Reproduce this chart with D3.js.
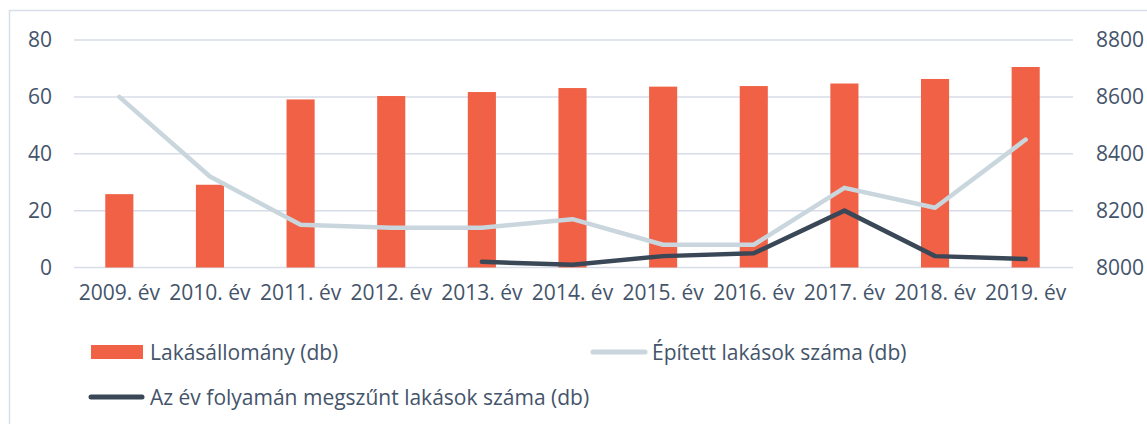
<!DOCTYPE html>
<html>
<head>
<meta charset="utf-8">
<script src="https://cdn.jsdelivr.net/npm/d3@7"></script>
<style>
  html, body { margin: 0; padding: 0; background: #fff; }
  svg { display: block; font-family: "Open Sans", sans-serif; }
</style>
</head>
<body>
<svg id="chart" width="1147" height="424"></svg>
<script>
const categories = ["2009. év","2010. év","2011. év","2012. év","2013. év","2014. év","2015. év","2016. év","2017. év","2018. év","2019. év"];
const lakasallomany = [8258, 8291, 8591, 8603, 8617, 8631, 8636, 8638, 8647, 8663, 8705];
const epitett = [60, 32, 15, 14, 14, 17, 8, 8, 28, 21, 45];
const megszunt = [null, null, null, null, 2, 1, 4, 5, 20, 4, 3];
const leftTicks = [0, 20, 40, 60, 80];
const rightTicks = [8000, 8200, 8400, 8600, 8800];
const seriesNames = ["Lakásállomány (db)", "Épített lakások száma (db)", "Az év folyamán megszűnt lakások száma (db)"];

const colors = { bar: "#F06145", light: "#C9D6DD", dark: "#3A4757", text: "#44546A", grid: "#D6DDE8", border: "#D9DFE8" };

const svg = d3.select("#chart");

// chart border
svg.append("path")
  .attr("d", "M9.5,424 L9.5,10.5 L1147,10.5")
  .attr("fill", "none").attr("stroke", colors.border).attr("stroke-width", 1.5);

const x = d3.scaleBand().domain(categories).range([74, 1071]).paddingInner(0.69).paddingOuter(0.345);
const xc = d => x(d) + x.bandwidth() / 2;
const yL = d3.scaleLinear().domain([0, 80]).range([267.5, 40]);
const yR = d3.scaleLinear().domain([8000, 8800]).range([267.5, 40]);

// gridlines
svg.append("g").selectAll("line").data(leftTicks).join("line")
  .attr("x1", 74).attr("x2", 1073)
  .attr("y1", d => yL(d)).attr("y2", d => yL(d))
  .attr("stroke", colors.grid).attr("stroke-width", 1.5);

// left axis
const axL = svg.append("g").attr("transform", "translate(52,0)")
  .call(d3.axisLeft(yL).tickValues(leftTicks).tickSize(0).tickPadding(0).tickFormat(d3.format("d")));
axL.select(".domain").remove();
axL.selectAll("text").attr("fill", colors.text).style("font-size", "21px").style("font-family", "Open Sans");

// right axis
const axR = svg.append("g").attr("transform", "translate(1096,0)")
  .call(d3.axisRight(yR).tickValues(rightTicks).tickSize(0).tickPadding(0).tickFormat(d3.format("d")));
axR.select(".domain").remove();
axR.selectAll("text").attr("fill", colors.text).style("font-size", "21px").style("font-family", "Open Sans");

// bottom axis labels
const axB = svg.append("g").attr("transform", "translate(0,285)")
  .call(d3.axisBottom(x).tickSize(0).tickPadding(0));
axB.select(".domain").remove();
axB.selectAll("text").attr("fill", colors.text).style("font-size", "21px").style("font-family", "Open Sans");

// bars
svg.append("g").selectAll("rect").data(categories).join("rect")
  .attr("x", d => x(d))
  .attr("width", x.bandwidth())
  .attr("y", (d, i) => yR(lakasallomany[i]))
  .attr("height", (d, i) => yR(8000) - yR(lakasallomany[i]))
  .attr("fill", colors.bar);

// lines
const lineGen = d3.line()
  .defined(d => d.v !== null)
  .x(d => xc(d.c))
  .y(d => yL(d.v));

svg.append("path")
  .datum(categories.map((c, i) => ({ c, v: epitett[i] })))
  .attr("d", lineGen)
  .attr("fill", "none").attr("stroke", colors.light).attr("stroke-width", 4.5)
  .attr("stroke-linejoin", "round").attr("stroke-linecap", "round");

svg.append("path")
  .datum(categories.map((c, i) => ({ c, v: megszunt[i] })))
  .attr("d", lineGen)
  .attr("fill", "none").attr("stroke", colors.dark).attr("stroke-width", 4.5)
  .attr("stroke-linejoin", "round").attr("stroke-linecap", "round");

// legend
const lg = svg.append("g").style("font-size", "21px").attr("fill", colors.text);
lg.append("rect").attr("x", 91).attr("y", 345).attr("width", 52).attr("height", 14).attr("fill", colors.bar);
lg.append("text").attr("x", 150).attr("y", 360).text(seriesNames[0]);
lg.append("line").attr("x1", 593).attr("x2", 645).attr("y1", 352).attr("y2", 352)
  .attr("stroke", colors.light).attr("stroke-width", 5).attr("stroke-linecap", "round");
lg.append("text").attr("x", 652).attr("y", 360).text(seriesNames[1]);
lg.append("line").attr("x1", 91).attr("x2", 142).attr("y1", 397).attr("y2", 397)
  .attr("stroke", colors.dark).attr("stroke-width", 5).attr("stroke-linecap", "round");
lg.append("text").attr("x", 150).attr("y", 405).text(seriesNames[2]);
</script>
</body>
</html>
